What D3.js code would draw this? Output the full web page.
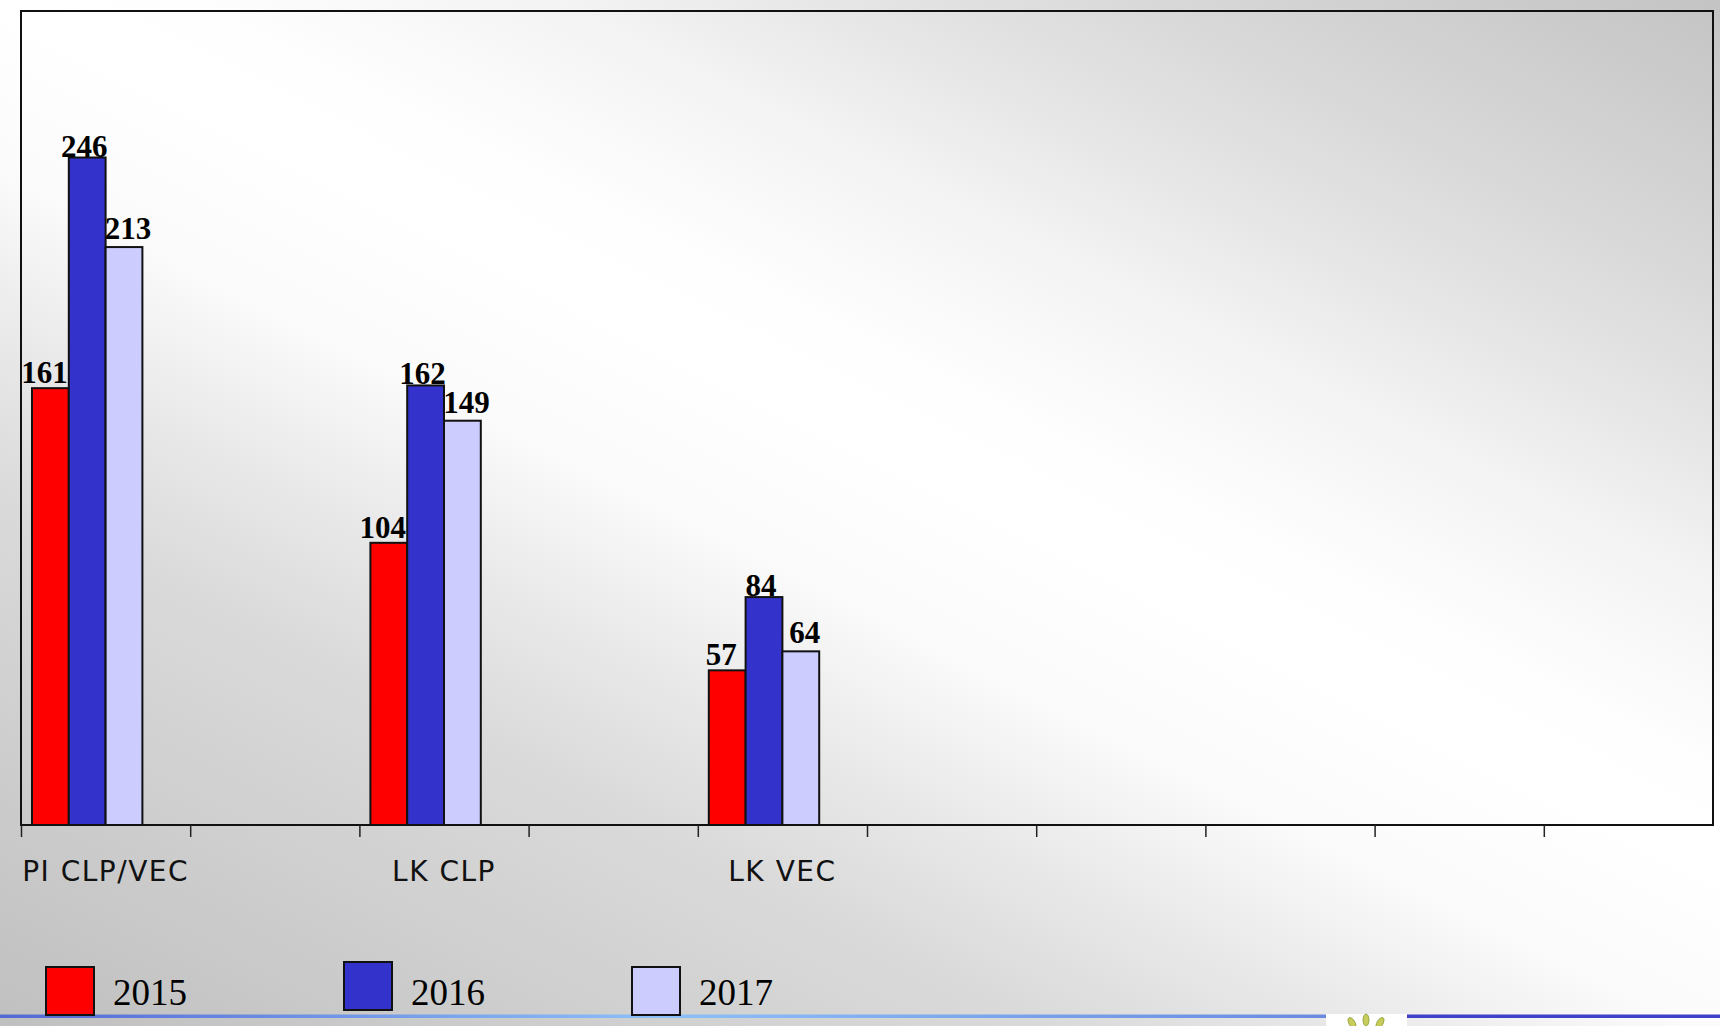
<!DOCTYPE html>
<html>
  <head>
    <meta charset="utf-8">
    <style>
      body {
        margin: 0;
        background-color: #eeeeee;
      }
    </style>
    <script src="https://d3js.org/d3.v7.min.js"></script>
  </head>
  <body>
    <script>
    var width = 1720;
    var height = 1026;

    // ten category slots on the x axis, only three carry data
    var categories = ["PI CLP/VEC", "", "LK CLP", "", "LK VEC", "", "", "", "", ""];
    var years = ["2015", "2016", "2017"];
    var values2015 = [161, null, 104, null, 57, null, null, null, null, null];
    var values2016 = [246, null, 162, null, 84, null, null, null, null, null];
    var values2017 = [213, null, 149, null, 64, null, null, null, null, null];
    var yMax = 300;

    var seriesColors = ["#ff0000", "#3333cc", "#ccccff"];
    var series = [values2015, values2016, values2017];

    var plot = {left: 21, top: 11, right: 1713, bottom: 825};

    const svg = d3.select("body").append("svg")
      .attr("width", width)
      .attr("height", height);

    var defs = svg.append("defs");

    // slide background: diagonal grey - white - grey
    var bg = defs.append("linearGradient")
      .attr("id", "bg")
      .attr("gradientUnits", "userSpaceOnUse")
      .attr("x1", -411).attr("y1", 813)
      .attr("x2", 348).attr("y2", -689);
    [[0, "#c0c0c0"], [0.28, "#dadada"], [0.364, "#e9e9e9"], [0.452, "#fbfbfb"],
     [0.541, "#ffffff"], [0.592, "#fefefe"], [0.692, "#f3f3f3"], [0.776, "#e4e4e4"],
     [0.859, "#d7d7d7"], [1, "#c4c4c4"]]
      .forEach(function(s) {
        bg.append("stop").attr("offset", s[0]).attr("stop-color", s[1]);
      });

    var foot = defs.append("linearGradient")
      .attr("id", "foot")
      .attr("x1", 0).attr("x2", 1).attr("y1", 0).attr("y2", 0);
    foot.append("stop").attr("offset", 0).attr("stop-color", "#5468d4");
    foot.append("stop").attr("offset", 0.5).attr("stop-color", "#8cc0f8");
    foot.append("stop").attr("offset", 1).attr("stop-color", "#6a8ae0");

    svg.append("rect")
      .attr("width", width)
      .attr("height", height)
      .attr("fill", "url(#bg)");

    let x0 = d3.scaleBand()
      .domain(d3.range(categories.length))
      .range([plot.left, plot.right]);
    let slot = x0.bandwidth();
    let x1 = d3.scaleBand()
      .domain(years)
      .range([slot * 0.065, slot * 0.065 + slot * 0.6525]);
    let yScale = d3.scaleLinear()
      .domain([0, yMax])
      .range([plot.bottom, plot.top]);

    // plot frame
    svg.append("rect")
      .attr("x", plot.left)
      .attr("y", plot.top)
      .attr("width", plot.right - plot.left)
      .attr("height", plot.bottom - plot.top)
      .attr("fill", "none")
      .attr("stroke", "#111")
      .attr("stroke-width", 2);

    // tick marks on the slot boundaries
    var tickScale = d3.scaleLinear()
      .domain([0, categories.length])
      .range([plot.left, plot.right]);
    var tickAxis = svg.append("g")
      .attr("transform", "translate(0," + plot.bottom + ")")
      .call(d3.axisBottom(tickScale)
        .tickValues(d3.range(categories.length))
        .tickSize(12)
        .tickSizeOuter(0)
        .tickFormat(""));
    tickAxis.select(".domain").remove();
    tickAxis.selectAll("line").attr("stroke", "#222").attr("stroke-width", 1.5);

    // category labels
    var labelAxis = svg.append("g")
      .attr("transform", "translate(0," + plot.bottom + ")")
      .call(d3.axisBottom(x0).tickSize(0).tickFormat(function(i) { return categories[i]; }));
    labelAxis.select(".domain").remove();
    labelAxis.selectAll("text")
      .attr("y", 56)
      .attr("dy", 0)
      .attr("fill", "#111")
      .style("font-family", "'Comic Sans MS', 'DejaVu Sans', sans-serif")
      .style("font-size", "28px")
      .style("letter-spacing", "1.5px");

    // bars
    var labelDx = [-6, -3, 4];
    var labelDy = [-5, -1, -8];
    years.forEach(function(yr, s) {
      var pts = series[s].map(function(v, i) { return {i: i, v: v}; })
        .filter(function(d) { return d.v != null; });

      svg.append("g")
        .attr("class", "bars")
        .selectAll("rect")
        .data(pts)
        .enter().append("rect")
          .attr("x", (d) => x0(d.i) + x1(yr))
          .attr("y", (d) => yScale(d.v))
          .attr("width", x1.bandwidth())
          .attr("height", (d) => yScale(0) - yScale(d.v))
          .attr("fill", seriesColors[s])
          .attr("stroke", "#111")
          .attr("stroke-width", 2);

      svg.append("g")
        .attr("class", "values")
        .selectAll("text")
        .data(pts)
        .enter().append("text")
          .attr("x", (d) => x0(d.i) + x1(yr) + x1.bandwidth() / 2 + labelDx[s])
          .attr("y", (d) => yScale(d.v) + labelDy[s])
          .attr("text-anchor", "middle")
          .attr("fill", "#000")
          .style("font-family", "'Liberation Serif', 'Times New Roman', serif")
          .style("font-weight", "bold")
          .style("font-size", "31px")
          .text((d) => d.v);
    });

    // footer line and logo strip
    svg.append("rect")
      .attr("x", 0).attr("y", 1014.5)
      .attr("width", 1326).attr("height", 3.5)
      .attr("fill", "url(#foot)");
    svg.append("rect")
      .attr("x", 1407).attr("y", 1014.5)
      .attr("width", width - 1407).attr("height", 3.5)
      .attr("fill", "#4040c8");
    svg.append("rect")
      .attr("x", 1326).attr("y", 1014)
      .attr("width", 81).attr("height", 12)
      .attr("fill", "#ffffff");
    var logo = svg.append("g").attr("transform", "translate(1366,1026)");
    [[-14, -3, -30], [0, -6, 0], [14, -3, 30]].forEach(function(p) {
      logo.append("ellipse")
        .attr("cx", p[0]).attr("cy", p[1])
        .attr("rx", 3).attr("ry", 6)
        .attr("transform", "rotate(" + p[2] + "," + p[0] + "," + p[1] + ")")
        .attr("fill", "#c8cc5a")
        .attr("stroke", "#8a9a30")
        .attr("stroke-width", 0.8);
    });

    // legend
    var legendX = [46, 344, 632];
    var legendY = [967, 962, 967];
    var legend = svg.append("g").attr("class", "legend");
    years.forEach(function(yr, s) {
      legend.append("rect")
        .attr("x", legendX[s])
        .attr("y", legendY[s])
        .attr("width", 48)
        .attr("height", 48)
        .attr("fill", seriesColors[s])
        .attr("stroke", "#111")
        .attr("stroke-width", 2);
      legend.append("text")
        .attr("x", legendX[s] + 67)
        .attr("y", 1005)
        .attr("fill", "#000")
        .style("font-family", "'Liberation Serif', 'Times New Roman', serif")
        .style("font-size", "37px")
        .text(yr);
    });
    </script>
  </body>
</html>
